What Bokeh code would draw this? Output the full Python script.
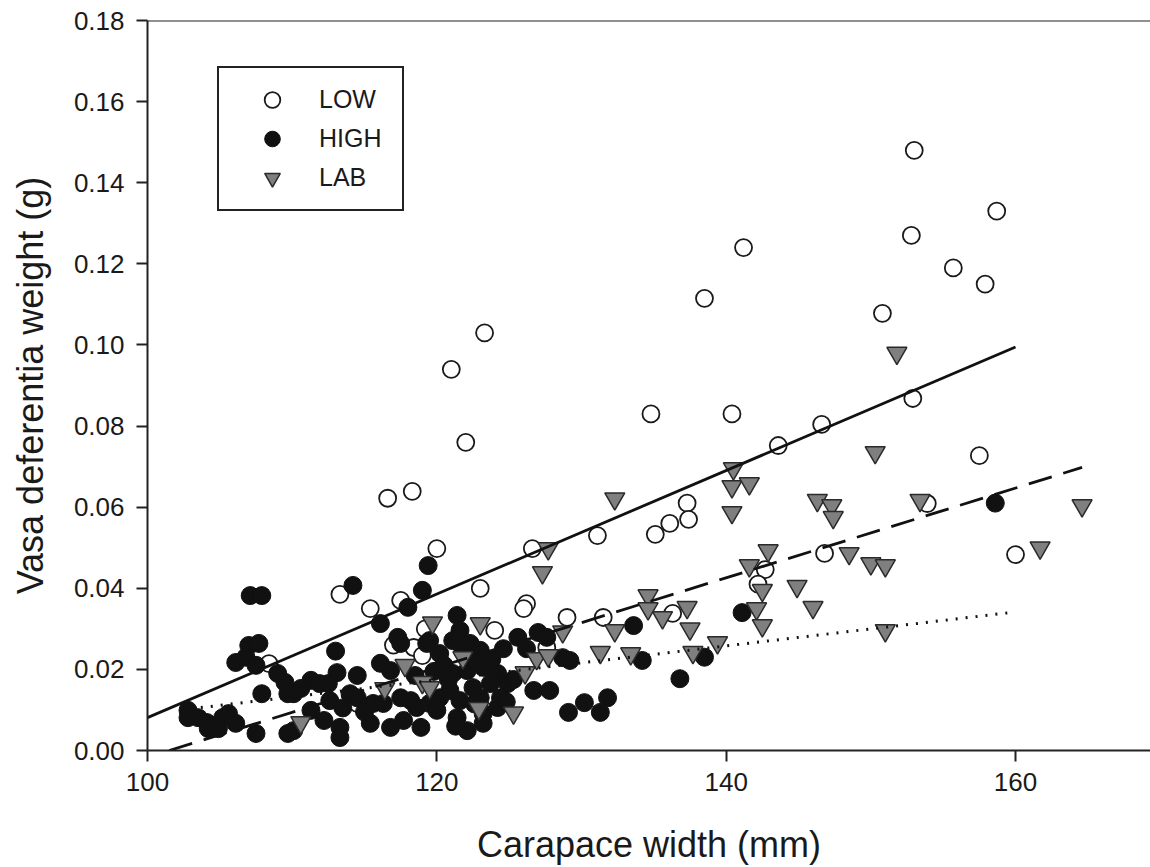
from bokeh.plotting import figure
from bokeh.models import Legend, LegendItem, Span, FixedTicker, NumeralTickFormatter
from bokeh.embed import file_html
from bokeh.resources import INLINE

# ---------------- data ----------------
low_x = [153.0, 152.8, 158.7, 155.7, 157.9, 141.2, 138.5, 150.8, 123.3, 121.0,
         122.0, 134.8, 140.4, 152.9, 146.6, 143.6, 157.5, 116.6, 118.3, 137.3,
         153.9, 137.4, 131.1, 135.1, 136.1, 126.6, 120.0, 146.8, 160.0, 142.7,
         142.2, 113.3, 115.4, 117.5, 123.0, 126.2, 126.0, 129.0, 131.5, 136.3,
         124.0, 119.2, 118.4, 117.0, 119.0, 127.6, 108.4, 114.5]
low_y = [0.148, 0.127, 0.133, 0.119, 0.115, 0.124, 0.1115, 0.1078, 0.103, 0.094,
         0.076, 0.083, 0.083, 0.0868, 0.0804, 0.0752, 0.0727, 0.0622, 0.0639, 0.061,
         0.0609, 0.057, 0.053, 0.0533, 0.056, 0.0498, 0.0498, 0.0486, 0.0483, 0.0446,
         0.041, 0.0385, 0.035, 0.037, 0.040, 0.0362, 0.035, 0.0328, 0.0328, 0.0338,
         0.0296, 0.030, 0.0254, 0.026, 0.0234, 0.0254, 0.0214, 0.0116]

high_x = [107.1, 107.9, 114.2, 119.4, 119.0, 118.0, 116.1, 113.0, 117.3, 117.5,
          119.3, 116.1, 116.8, 113.1, 114.5, 111.3, 111.9, 110.6, 110.1, 114.0,
          114.5, 112.6, 115.6, 116.3, 117.5, 118.2, 118.6, 119.5, 111.3, 112.2,
          113.3, 115.4, 116.8, 117.7, 118.9, 110.1, 113.3, 120.0, 107.0, 107.7,
          106.1, 106.8, 107.5, 109.0, 109.5, 109.7, 107.9, 102.8, 102.8, 103.5,
          104.1, 104.2, 105.2, 105.6, 106.1, 104.9, 107.5, 109.7, 121.4, 121.6,
          121.1, 119.5, 120.2, 122.3, 123.0, 124.6, 125.6, 127.0, 127.6, 126.2,
          128.7, 129.2, 121.1, 122.1, 123.2, 124.2, 124.9, 123.7, 122.5, 120.9,
          120.2, 121.6, 123.0, 124.4, 121.4, 123.2, 124.2, 122.1, 123.2, 126.7,
          127.8, 129.1, 130.2, 131.3, 131.8, 136.8, 133.6, 134.2, 138.5, 141.1,
          158.6, 120.5, 122.8, 121.8, 123.8, 120.8, 122.6, 121.3, 124.8, 125.3,
          119.8, 118.5, 112.5, 113.5, 115.0]
high_y = [0.0382, 0.0382, 0.0407, 0.0456, 0.0395, 0.0353, 0.0313, 0.0245, 0.0279, 0.0264,
          0.0264, 0.0215, 0.0197, 0.0192, 0.0185, 0.0173, 0.0165, 0.0153, 0.014, 0.014,
          0.013, 0.0123, 0.0116, 0.0116, 0.013, 0.0123, 0.0106, 0.0116, 0.0099, 0.0074,
          0.0057, 0.0067, 0.0057, 0.0074, 0.0057, 0.0049, 0.0032, 0.0099, 0.0259, 0.0264,
          0.0217, 0.023, 0.021, 0.019, 0.0168, 0.014, 0.014, 0.0099, 0.0081, 0.0081,
          0.0069, 0.0054, 0.0081, 0.0091, 0.0067, 0.0054, 0.0042, 0.0042, 0.0333, 0.0296,
          0.0271, 0.0271, 0.0239, 0.0264, 0.0247, 0.0251, 0.0279, 0.0291, 0.0279, 0.0251,
          0.0229, 0.0222, 0.019, 0.0197, 0.0205, 0.019, 0.0165, 0.0165, 0.0155, 0.0148,
          0.013, 0.0123, 0.013, 0.013, 0.0081, 0.0091, 0.0106, 0.0049, 0.0067, 0.0148,
          0.0148, 0.0094, 0.0118, 0.0094, 0.013, 0.0177, 0.0308, 0.0222, 0.023, 0.034,
          0.061, 0.021, 0.022, 0.0245, 0.0225, 0.0175, 0.0115, 0.006, 0.012, 0.0175,
          0.0195, 0.0185, 0.0165, 0.0105, 0.0095]

lab_x = [151.8, 150.3, 140.5, 140.4, 141.6, 140.4, 146.3, 147.3, 147.4, 153.4,
         164.6, 161.7, 142.9, 148.5, 150.0, 151.0, 141.6, 144.9, 142.5, 146.0,
         142.1, 142.5, 137.3, 137.5, 139.4, 137.7, 151.0, 134.6, 134.6, 135.6,
         132.3, 128.7, 131.3, 133.4, 132.3, 127.7, 127.3, 119.7, 123.0, 117.8,
         121.8, 119.0, 119.5, 126.9, 127.7, 126.1, 122.9, 125.3, 116.4, 110.6]
lab_y = [0.098, 0.0735, 0.0695, 0.0651, 0.0658, 0.0587, 0.0617, 0.0604, 0.0575, 0.0617,
         0.0604, 0.050, 0.0493, 0.0486, 0.0461, 0.0456, 0.0456, 0.0405, 0.0395, 0.0353,
         0.035, 0.0308, 0.0353, 0.030, 0.0266, 0.0242, 0.0296, 0.0382, 0.035, 0.0328,
         0.0296, 0.0293, 0.0242, 0.0239, 0.0621, 0.0498, 0.0439, 0.0315, 0.0313, 0.021,
         0.0229, 0.0168, 0.0155, 0.0227, 0.0234, 0.0192, 0.0104, 0.0093, 0.0153, 0.0069]

# regression lines (end points)
low_fit_x = [100.0, 160.0]
low_fit_y = [0.0081, 0.0995]
high_fit_x = [101.5, 164.6]
high_fit_y = [0.0, 0.0698]
lab_fit_x = [103.0, 159.6]
lab_fit_y = [0.0103, 0.034]

x_ticks = [100, 120, 140, 160]
y_ticks = [0.0, 0.02, 0.04, 0.06, 0.08, 0.10, 0.12, 0.14, 0.16, 0.18]
x_label = "Carapace width (mm)"
y_label = "Vasa deferentia weight (g)"
series_names = ["LOW", "HIGH", "LAB"]

FONT = "Liberation Sans"

p = figure(width=1150, height=867, x_range=(100, 169.33), y_range=(0, 0.18),
           output_backend="svg", toolbar_location=None,
           min_border_left=147, min_border_top=20, min_border_right=0,
           min_border_bottom=117)
p.outline_line_color = None
p.grid.visible = False
p.background_fill_color = "white"
p.border_fill_color = "white"

for ax in (p.xaxis, p.yaxis):
    ax.axis_line_width = 2
    ax.axis_line_color = "#222222"
    ax.major_tick_line_width = 2
    ax.major_tick_line_color = "#222222"
    ax.major_tick_in = 0
    ax.major_tick_out = 11
    ax.minor_tick_line_color = None
    ax.major_label_text_font = FONT
    ax.major_label_text_font_size = "26px"
    ax.major_label_text_color = "#1a1a1a"
    ax.axis_label_text_font = FONT
    ax.axis_label_text_font_size = "36px"
    ax.axis_label_text_font_style = "normal"
    ax.axis_label_text_color = "#1a1a1a"

p.xaxis.ticker = FixedTicker(ticks=x_ticks)
p.yaxis.ticker = FixedTicker(ticks=y_ticks)
p.yaxis.formatter = NumeralTickFormatter(format="0.00")
p.xaxis.axis_label = x_label
p.yaxis.axis_label = y_label
p.xaxis.major_label_standoff = 11
p.yaxis.major_label_standoff = 12
p.xaxis.axis_label_standoff = 30
p.yaxis.axis_label_standoff = 20

# top frame line
p.add_layout(Span(location=0.18, dimension="width", line_color="#222222", line_width=2))

r_low = p.scatter(low_x, low_y, marker="circle", size=17, fill_color="white",
                  line_color="#1a1a1a", line_width=1.8)
r_high = p.scatter(high_x, high_y, marker="circle", size=18, fill_color="#111111",
                   line_color="#111111", line_width=1)
r_lab = p.scatter(lab_x, lab_y, marker="inverted_triangle", size=20, fill_color="#7f7f7f",
                  line_color="#2a2a2a", line_width=1.5)

p.line(low_fit_x, low_fit_y, line_color="#111111", line_width=2.8)
p.line(high_fit_x, high_fit_y, line_color="#111111", line_width=2.8, line_dash="24 12")
p.line(lab_fit_x, lab_fit_y, line_color="#111111", line_width=3, line_dash="2 8")

legend = Legend(items=[LegendItem(label=series_names[0], renderers=[r_low]),
                       LegendItem(label=series_names[1], renderers=[r_high]),
                       LegendItem(label=series_names[2], renderers=[r_lab])],
                location=(70, 539), orientation="vertical")
legend.border_line_color = "#222222"
legend.border_line_alpha = 1
legend.border_line_width = 2
legend.background_fill_color = "white"
legend.background_fill_alpha = 1
legend.label_text_font = FONT
legend.label_text_font_size = "25px"
legend.label_text_color = "#1a1a1a"
legend.padding = 12
legend.margin = 0
legend.spacing = 0
legend.glyph_height = 39
legend.label_height = 39
legend.glyph_width = 82
legend.label_standoff = 6
legend.label_width = 71
p.add_layout(legend, "center")

open("out.html", "w").write(file_html(p, INLINE))
